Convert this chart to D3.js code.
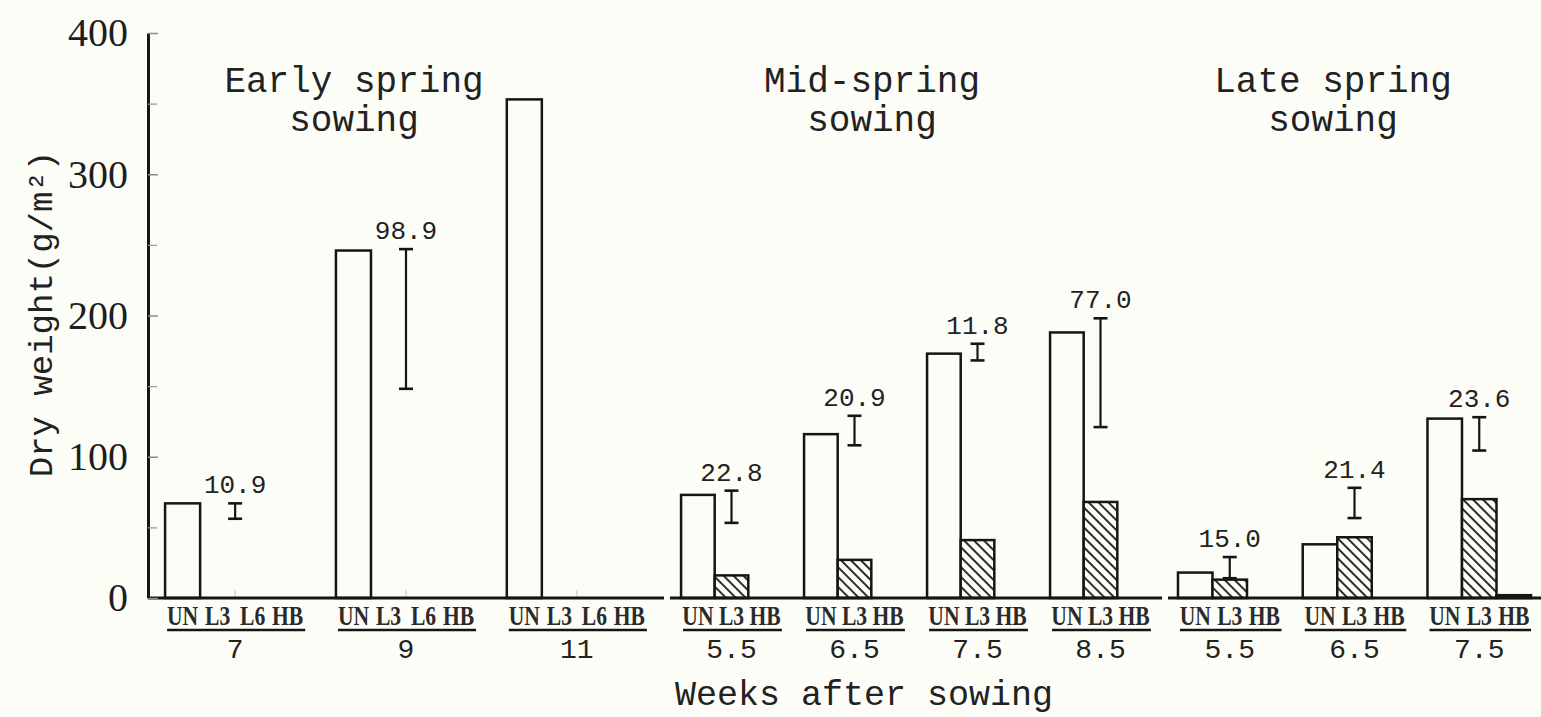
<!DOCTYPE html>
<html><head><meta charset="utf-8">
<script src="https://cdn.jsdelivr.net/npm/d3@7"></script>
<style>html,body{margin:0;padding:0;background:#fdfdf8;} svg{display:block}</style>
</head><body><svg id="c" width="1541" height="717"></svg>
<script>
// ---------- data ----------
const yTicks = [0, 100, 200, 300, 400];
const yMinorTicks = [50, 150, 250, 350];

const earlyTitle = ["Early spring", "sowing"];
const earlyWeeks = ["7", "9", "11"];
const earlyTreat = ["UN", "L3", "L6", "HB"];
const earlyUN = [67, 246, 353];
const earlyL3 = [0, 0, 0];
const earlyL6 = [0, 0, 0];
const earlyHB = [0, 0, 0];
const earlyLSD = [10.9, 98.9, null];
const earlyLSDTop = [67, 247, null];

const midTitle = ["Mid-spring", "sowing"];
const midWeeks = ["5.5", "6.5", "7.5", "8.5"];
const midTreat = ["UN", "L3", "HB"];
const midUN = [73, 116, 173, 188];
const midL3 = [16, 27, 41, 68];
const midHB = [0, 0, 0, 0];
const midLSD = [22.8, 20.9, 11.8, 77.0];
const midLSDTop = [76, 129, 180, 198];

const lateTitle = ["Late spring", "sowing"];
const lateWeeks = ["5.5", "6.5", "7.5"];
const lateTreat = ["UN", "L3", "HB"];
const lateUN = [18, 38, 127];
const lateL3 = [13, 43, 70];
const lateHB = [0, 0, 2];
const lateLSD = [15.0, 21.4, 23.6];
const lateLSDTop = [29, 78, 128];

const yLabel = "Dry weight(g/m²)";
const xLabel = "Weeks after sowing";

// ---------- layout ----------
const BG = "#fdfdf8";
const INK = "#151515";
const svg = d3.select("#c");
svg.append("rect").attr("width", 1541).attr("height", 717).attr("fill", BG);

const defs = svg.append("defs");
const pat = defs.append("pattern").attr("id", "hatch")
  .attr("patternUnits", "userSpaceOnUse").attr("width", 7).attr("height", 7)
  .attr("patternTransform", "rotate(-45)");
pat.append("rect").attr("width", 7).attr("height", 7).attr("fill", BG);
pat.append("line").attr("x1", 1).attr("y1", 0).attr("x2", 1).attr("y2", 7)
  .attr("stroke", INK).attr("stroke-width", 1.8);

const y = d3.scaleLinear().domain([0, 400]).range([598, 33]);
const AXIS_X = 148;

const fills = { UN: BG, L3: "url(#hatch)", L6: BG, HB: INK };

const panels = [
  { title: earlyTitle, titleX: 354, weeks: earlyWeeks, treat: earlyTreat,
    series: { UN: earlyUN, L3: earlyL3, L6: earlyL6, HB: earlyHB },
    lsd: earlyLSD, lsdTop: earlyLSDTop, range: [148, 664], pi: 0.18, po: 0.1 },
  { title: midTitle, titleX: 872, weeks: midWeeks, treat: midTreat,
    series: { UN: midUN, L3: midL3, HB: midHB },
    lsd: midLSD, lsdTop: midLSDTop, range: [670, 1162], pi: 0.18, po: 0.09 },
  { title: lateTitle, titleX: 1333, weeks: lateWeeks, treat: lateTreat,
    series: { UN: lateUN, L3: lateL3, HB: lateHB },
    lsd: lateLSD, lsdTop: lateLSDTop, range: [1168, 1541], pi: 0.17, po: 0.08 }
];

panels.forEach(p => {
  const x0 = d3.scaleBand().domain(p.weeks).range(p.range)
    .paddingInner(p.pi).paddingOuter(p.po);
  const x1 = d3.scaleBand().domain(p.treat).range([0, x0.bandwidth()]).padding(0);
  const g = svg.append("g");

  // faint centre ticks on baseline
  g.selectAll("line.ct").data(p.weeks).join("line")
    .attr("x1", d => x0(d) + x0.bandwidth() / 2).attr("x2", d => x0(d) + x0.bandwidth() / 2)
    .attr("y1", y(0)).attr("y2", y(0) - 8)
    .attr("stroke", "#cfcfc8").attr("stroke-width", 1.2);

  // bars
  const groups = g.selectAll("g.grp").data(p.weeks.map((w, i) => ({
    week: w, i,
    vals: p.treat.map(t => ({ t, v: p.series[t][i] }))
  }))).join("g").attr("transform", d => `translate(${x0(d.week)},0)`);

  groups.selectAll("rect").data(d => d.vals.filter(e => e.v > 0)).join("rect")
    .attr("x", d => x1(d.t)).attr("width", x1.bandwidth())
    .attr("y", d => y(d.v)).attr("height", d => y(0) - y(d.v))
    .attr("fill", d => fills[d.t]).attr("stroke", INK).attr("stroke-width", 2.5);

  // baseline
  g.append("line").attr("x1", p.range[0]).attr("x2", p.range[1])
    .attr("y1", y(0)).attr("y2", y(0)).attr("stroke", INK).attr("stroke-width", 3);

  // treatment labels (condensed)
  groups.selectAll("g.tr").data(d => d.vals).join("g").attr("class", "tr")
    .attr("transform", d => `translate(${x1(d.t) + x1.bandwidth() / 2},625) scale(0.8,1)`)
    .append("text")
    .attr("text-anchor", "middle")
    .attr("font-family", "Liberation Serif").attr("font-weight", "bold")
    .attr("font-size", 27).attr("fill", "#2a2a2a")
    .text(d => d.t);

  // underline
  groups.append("line").attr("x1", 2).attr("x2", x0.bandwidth())
    .attr("y1", 630).attr("y2", 630).attr("stroke", INK).attr("stroke-width", 2.5);

  // week label
  groups.append("text").attr("x", x0.bandwidth() / 2).attr("y", 658)
    .attr("text-anchor", "middle").attr("font-family", "Liberation Mono")
    .attr("font-size", 28).attr("fill", "#222").text(d => d.week);

  // LSD error bars
  const eb = groups.filter(d => p.lsd[d.i] != null);
  const cx = x0.bandwidth() / 2;
  eb.append("line").attr("x1", cx).attr("x2", cx)
    .attr("y1", d => y(p.lsdTop[d.i])).attr("y2", d => y(p.lsdTop[d.i] - p.lsd[d.i]))
    .attr("stroke", INK).attr("stroke-width", 2.2);
  [0, 1].forEach(k => {
    eb.append("line").attr("x1", cx - 7).attr("x2", cx + 7)
      .attr("y1", d => y(p.lsdTop[d.i] - k * p.lsd[d.i]))
      .attr("y2", d => y(p.lsdTop[d.i] - k * p.lsd[d.i]))
      .attr("stroke", INK).attr("stroke-width", 2.6);
  });
  eb.append("text").attr("x", cx).attr("y", d => y(p.lsdTop[d.i]) - 10)
    .attr("text-anchor", "middle").attr("font-family", "Liberation Mono")
    .attr("font-size", 26).attr("fill", "#222")
    .text(d => d3.format(".1f")(p.lsd[d.i]));

  // panel title
  p.title.forEach((line, k) => {
    svg.append("text").attr("x", p.titleX).attr("y", 92 + k * 39)
      .attr("text-anchor", "middle").attr("font-family", "Liberation Mono")
      .attr("font-size", 36).attr("fill", "#222").text(line);
  });
});

// y axis
const yAxis = d3.axisLeft(y).tickValues(yTicks).tickSize(-10).tickSizeOuter(0)
  .tickPadding(20).tickFormat(d3.format("d"));
const ga = svg.append("g").attr("transform", `translate(${AXIS_X},0)`).call(yAxis);
ga.select(".domain").attr("stroke", INK).attr("stroke-width", 3);
ga.selectAll(".tick line").attr("stroke", "#8a8a8a").attr("stroke-width", 1.5);
ga.selectAll(".tick text").attr("font-family", "Liberation Serif").attr("font-size", 40)
  .attr("fill", "#1e1e1e");
const gm = svg.append("g").attr("transform", `translate(${AXIS_X},0)`)
  .call(d3.axisLeft(y).tickValues(yMinorTicks).tickSize(-9).tickFormat(""));
gm.select(".domain").remove();
gm.selectAll(".tick line").attr("stroke", "#9a9a9a").attr("stroke-width", 1.3);

// axis titles
svg.append("text").attr("transform", "translate(52,314) rotate(-90)")
  .attr("text-anchor", "middle").attr("font-family", "Liberation Mono")
  .attr("font-size", 34).attr("fill", "#222").text(yLabel);
svg.append("text").attr("x", 864).attr("y", 705)
  .attr("text-anchor", "middle").attr("font-family", "Liberation Mono")
  .attr("font-size", 35).attr("fill", "#222").text(xLabel);
</script>
</body></html>
